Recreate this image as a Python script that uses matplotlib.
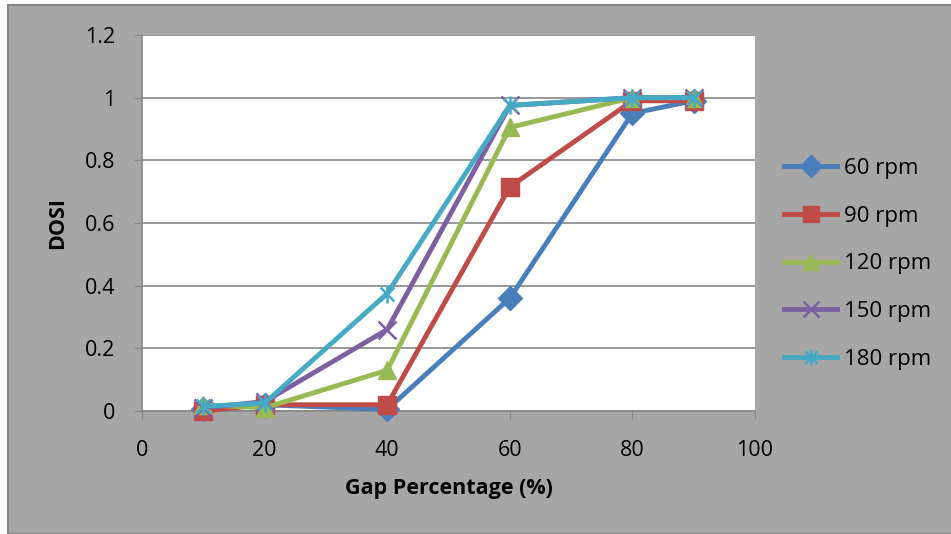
import matplotlib
matplotlib.use("Agg")
import matplotlib.pyplot as plt
from matplotlib.path import Path
from matplotlib.patches import Rectangle

plt.rcParams["font.family"] = ["Open Sans", "DejaVu Sans"]

# ── data ─────────────────────────────────────────────────────────────────────
gap = [10, 20, 40, 60, 80, 90]
dosi_60 = [0.005, 0.02, 0.005, 0.36, 0.95, 0.99]
dosi_90 = [0.0, 0.02, 0.02, 0.715, 0.99, 0.99]
dosi_120 = [0.02, 0.01, 0.13, 0.905, 1.0, 1.0]
dosi_150 = [0.01, 0.03, 0.26, 0.975, 1.0, 1.0]
dosi_180 = [0.015, 0.025, 0.375, 0.975, 1.0, 1.0]
labels = ["60 rpm", "90 rpm", "120 rpm", "150 rpm", "180 rpm"]

COLORS = ["#4A7EBB", "#BE4B48", "#98B954", "#7D60A0", "#46AAC5"]

# excel-style star: X with a vertical bar
star = Path([(-1, -1), (1, 1), (-1, 1), (1, -1), (0, -1.3), (0, 1.3)],
            [Path.MOVETO, Path.LINETO, Path.MOVETO, Path.LINETO,
             Path.MOVETO, Path.LINETO])
MARKERS = ["D", "s", "^", "x", star]
MSIZE = [12, 13, 13, 13, 13]

fig = plt.figure(figsize=(9.51, 5.34), dpi=100)
fig.patch.set_facecolor("white")
# grey chart frame
frame = Rectangle((8 / 951, 0), 1.0, 529 / 534, transform=fig.transFigure,
                  facecolor="#A6A6A6", edgecolor="#868686", linewidth=1.5)
frame.set_zorder(-10)
fig.add_artist(frame)

ax = fig.add_axes([142 / 951, 123 / 534, 613 / 951, 376 / 534])
ax.set_facecolor("white")

series = [dosi_60, dosi_90, dosi_120, dosi_150, dosi_180]
for vals, lab, c, m, ms in zip(series, labels, COLORS, MARKERS, MSIZE):
    ax.plot(gap, vals, color=c, marker=m, markersize=ms, linewidth=3.5,
            markeredgewidth=1.8 if m in ("x", star) else 1,
            markeredgecolor=c, label=lab, clip_on=False, zorder=3)

ax.set_xlim(0, 100)
ax.set_ylim(0, 1.2)
ax.set_xticks(range(0, 101, 20))
ax.set_yticks([0, 0.2, 0.4, 0.6, 0.8, 1.0, 1.2])
ax.set_yticklabels(["0", "0.2", "0.4", "0.6", "0.8", "1", "1.2"])
ax.grid(axis="y", color="#888888", linewidth=1.2)
ax.set_axisbelow(True)

for s in ("top", "right"):
    ax.spines[s].set_visible(False)
for s in ("left", "bottom"):
    ax.spines[s].set_color("#888888")
    ax.spines[s].set_linewidth(1.2)
ax.tick_params(axis="both", direction="out", length=6, color="#888888",
               labelsize=15.5)
ax.tick_params(axis="x", pad=15)
ax.tick_params(axis="y", pad=13)

ax.set_xlabel("Gap Percentage (%)", fontsize=15.5, fontweight="bold",
              labelpad=12)
ax.set_ylabel("DOSI", fontsize=15.5, fontweight="bold", labelpad=12)

leg = fig.legend(loc="center left", bbox_to_anchor=(784 / 951, 270 / 534),
                 frameon=False, fontsize=16, handlelength=2.4,
                 labelspacing=1.2, handletextpad=0.3, borderpad=0,
                 borderaxespad=0, markerscale=0.9)

fig.savefig("out.png", dpi=100, facecolor=fig.get_facecolor())
